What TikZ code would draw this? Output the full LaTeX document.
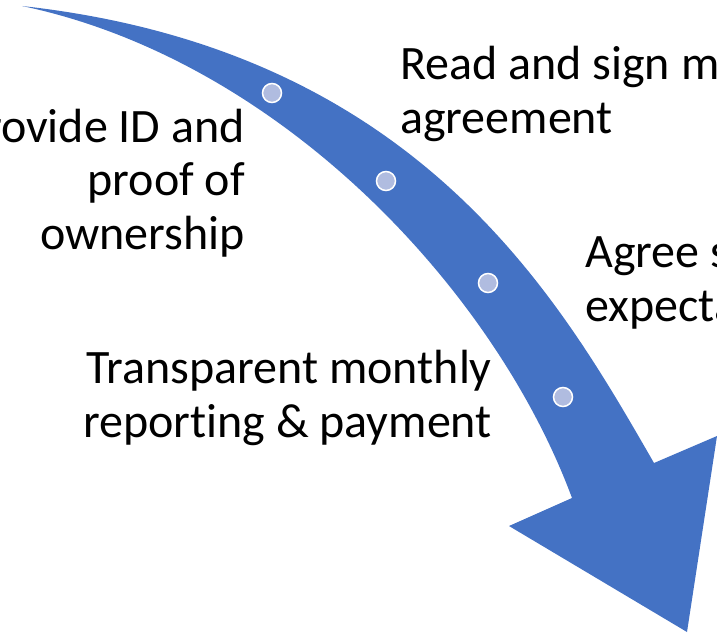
\documentclass[tikz,border=0pt]{standalone}
\usepackage{fontspec}
\setmainfont{Carlito}[Ligatures=NoCommon]
\definecolor{arrowblue}{RGB}{68,114,196}
\definecolor{dotblue}{RGB}{176,188,224}
\tikzset{stepdot/.style={draw=white, fill=dotblue, circle, line width=1.5pt, minimum size=19pt, inner sep=0pt},
steptext/.style={inner sep=0pt, font=\fontsize{48}{53.5}\selectfont}}

\begin{document}
\begin{tikzpicture}[x=1pt,y=-1pt]
\useasboundingbox (0,0) rectangle (717,634);
\clip (0,0) rectangle (717,634);

% curved arrow
\fill[arrowblue] (22,6) .. controls (420,50) and (560,300) .. (654,463) -- (717,436) -- (687,632) -- (509,526) -- (572,498) .. controls (495,290) and (280,60) .. (22,6) -- cycle;

\node[stepdot] (d1) at (272,93) {};
\node[stepdot] (d2) at (386,181) {};
\node[stepdot] (d3) at (488,283) {};
\node[stepdot] (d4) at (563,397) {};

% step texts, anchored on their last line
\node[steptext, align=left, anchor=base west] (t1) at (400,133) {Read and sign m\\agreement};
\node[steptext, align=right, anchor=base east] (t2) at (245,249) {rovide ID and\\proof of\\ownership};
\node[steptext, align=left, anchor=base west] (t3) at (585,321) {Agree s\\expecta};
\node[steptext, align=right, anchor=base east] (t4) at (492,437) {Transparent monthly\\reporting \& payment};
\end{tikzpicture}
\end{document}
